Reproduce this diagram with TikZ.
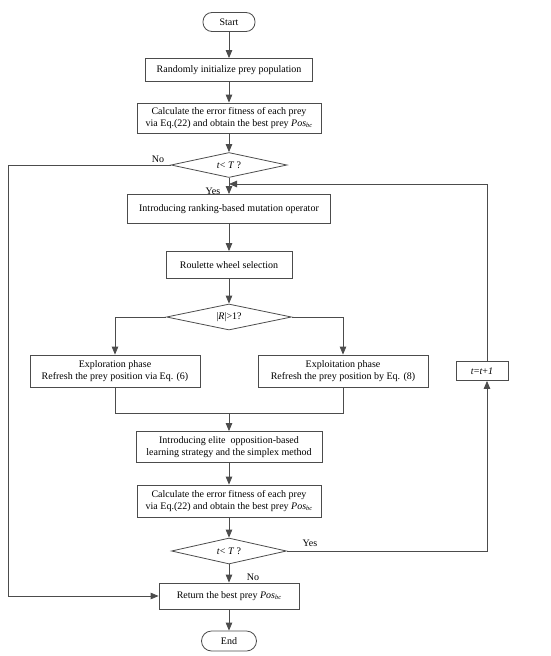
\documentclass[tikz,border=0pt]{standalone}
\usepackage{fontspec}
\setmainfont{Liberation Serif}
\usetikzlibrary{arrows.meta,shapes.geometric}
\newcommand{\posbc}{\textit{Pos}\raisebox{-1.5pt}{\fontsize{6.5}{7}\selectfont\textit{bc}}}
\begin{document}
\begin{tikzpicture}[x=1pt,y=-1pt,
  every node/.style={font=\fontsize{10}{12}\selectfont},
  line/.style={draw=black!70,line width=0.8pt},
  arr/.style={line,-{Triangle[length=8pt,width=6.5pt]}},
  box/.style={draw=black!70,line width=0.8pt,rectangle,align=center,inner sep=1pt},
  term/.style={draw=black!70,line width=0.8pt,rounded corners=9pt,inner sep=1pt},
  dec/.style={draw=black!70,line width=0.8pt,diamond,aspect=4.5,inner sep=0pt},
  lbl/.style={inner sep=1pt}]
\useasboundingbox (0,0) rectangle (550,656);
\node[term,minimum width=52pt,minimum height=19pt] (start) at (229,22) {Start};
\node[box,minimum width=167pt,minimum height=23pt] (b1) at (229,70) {Randomly initialize prey population};
\node[box,minimum width=184pt,minimum height=30pt] (b2) at (229,118) {Calculate the error fitness of each prey\\via Eq.(22) and obtain the best prey \posbc};
\node[dec,minimum width=116pt,minimum height=25pt] (d1) at (229,165) {\textit{t}< \textit{T} ?};
\node[box,minimum width=203pt,minimum height=29pt] (b3) at (229,209) {Introducing ranking-based mutation operator};
\node[box,minimum width=126pt,minimum height=27pt] (b4) at (229,265) {Roulette wheel selection};
\node[dec,minimum width=125pt,minimum height=26pt] (d2) at (229,317) {|\textit{R}|>1?};
\node[box,minimum width=170pt,minimum height=32pt] (b5) at (115,371) {Exploration phase\\Refresh the prey position via Eq. (6)};
\node[box,minimum width=170pt,minimum height=32pt] (b6) at (343,371) {Exploitation phase\\Refresh the prey position by Eq. (8)};
\node[box,minimum width=52pt,minimum height=19pt] (b7) at (482,371) {\textit{t}=\textit{t}+\textit{1}};
\node[box,minimum width=186pt,minimum height=31pt] (b8) at (229,447) {Introducing elite\ \ opposition-based\\learning strategy and the simplex method};
\node[box,minimum width=184pt,minimum height=32pt] (b9) at (229,501) {Calculate the error fitness of each prey\\via Eq.(22) and obtain the best prey \posbc};
\node[dec,minimum width=115pt,minimum height=26pt] (d3) at (229,551) {\textit{t}< \textit{T} ?};
\node[box,minimum width=140pt,minimum height=26pt] (b10) at (229,596) {Return the best prey \posbc};
\node[term,minimum width=55pt,minimum height=20pt,rounded corners=10pt] (end) at (229,641) {End};
\coordinate (fb) at (229,184);
\coordinate (fbr) at (487,184);
\coordinate (merge) at (229,413);
\coordinate (leftc) at (8,165);
\draw[arr] (start) -- (b1);
\draw[arr] (b1) -- (b2);
\draw[arr] (b2) -- (d1);
\draw[arr] (d1) -- (b3);
\draw[arr] (leftc -| d1.west) -- (leftc) |- (b10.west);
\node[lbl] (no1) at (158,159) {No};
\node[lbl] (yes1) at (213,191) {Yes};
\draw[line] (b7.north -| fbr) -- (fbr);
\draw[arr] (fbr) -- (fb);
\draw[arr] (b3) -- (b4);
\draw[arr] (b4) -- (d2);
\draw[arr] (d2.west) -| (b5.north);
\draw[arr] (d2.east) -| (b6.north);
\draw[line] (b5.south) |- (merge);
\draw[line] (b6.south) |- (merge);
\draw[arr] (merge) -- (b8);
\draw[arr] (b8) -- (b9);
\draw[arr] (b9) -- (d3);
\draw[arr] (d3.east) -| (b7.south -| fbr);
\node[lbl] (yes2) at (310,543) {Yes};
\draw[arr] (d3) -- (b10);
\node[lbl] (no2) at (253,577) {No};
\draw[arr] (b10) -- (end);
\end{tikzpicture}
\end{document}
